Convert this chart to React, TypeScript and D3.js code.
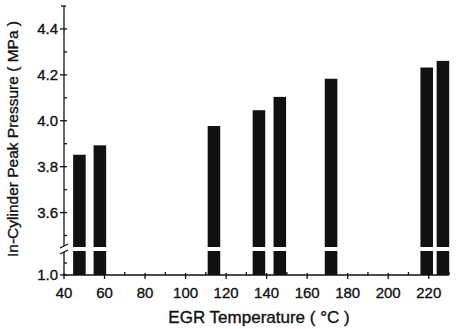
import React from "react";
import * as d3 from "d3";

// EGR temperature (°C) and peak pressure (MPa)
const temps = [47.6, 57.7, 114, 136.2, 146.5, 171.8, 219, 227];
const pressures = [3.852, 3.893, 3.977, 4.046, 4.104, 4.183, 4.232, 4.261];
const xTicks = [40, 60, 80, 100, 120, 140, 160, 180, 200, 220];
const xMinor = [50, 70, 90, 110, 130, 150, 170, 190, 210, 230];
const yTicks = [3.6, 3.8, 4.0, 4.2, 4.4];
const yMinor = [3.5, 3.7, 3.9, 4.1, 4.3];
const lowTicks = [1.0];
const lowMinor = [1.05];

const W = 459;
const H = 329;
const font = "'Liberation Sans', Arial, sans-serif";
const ink = "#111";

const App = () => {
  const x = d3.scaleLinear().domain([40, 230]).range([64, 449]);
  const yUp = d3.scaleLinear().domain([3.45, 4.5]).range([247, 6]);
  const yLow = d3.scaleLinear().domain([1.0, 1.1]).range([275, 251]);
  const barW = x(6.2) - x(0);
  const x0 = x(40);
  const yBase = yLow(1.0);

  return (
    <svg width={W} height={H} style={{ position: "absolute", left: 0, top: 0, background: "#fff" }}>
      {/* bars, drawn in both axis segments */}
      {temps.map((t, i) => (
        <g key={i} fill={ink}>
          <rect x={x(t) - barW / 2} y={yUp(pressures[i])} width={barW} height={yUp(3.45) - yUp(pressures[i])} />
          <rect x={x(t) - barW / 2} y={yLow(1.1)} width={barW} height={yBase - yLow(1.1)} />
        </g>
      ))}

      {/* y axis */}
      <g stroke={ink} strokeWidth={1.3}>
        <line x1={x0} x2={x0} y1={yUp(4.5)} y2={yUp(3.45) - 1} />
        <line x1={x0} x2={x0} y1={yLow(1.1) + 1} y2={yBase} />
        {yTicks.map(v => <line key={v} x1={x0 - 4} x2={x0 + 3} y1={yUp(v)} y2={yUp(v)} />)}
        {yMinor.map(v => <line key={v} x1={x0} x2={x0 + 3} y1={yUp(v)} y2={yUp(v)} />)}
        <line x1={x0 - 3} x2={x0 + 2} y1={yUp(4.5)} y2={yUp(4.5)} />
        {lowTicks.map(v => <line key={v} x1={x0 - 4} x2={x0 + 3} y1={yLow(v)} y2={yLow(v)} />)}
        {lowMinor.map(v => <line key={v} x1={x0} x2={x0 + 3} y1={yLow(v)} y2={yLow(v)} />)}
        {/* break marks */}
        <line x1={x0 - 4} x2={x0 + 4} y1={yUp(3.45) + 1} y2={yUp(3.45) - 3} />
        <line x1={x0 - 4} x2={x0 + 4} y1={yLow(1.1) + 3} y2={yLow(1.1) - 1} />
      </g>

      {/* x axis */}
      <g stroke={ink} strokeWidth={1.3}>
        <line x1={x0} x2={x(230)} y1={yBase} y2={yBase} />
        {xTicks.map(v => <line key={v} x1={x(v)} x2={x(v)} y1={yBase - 2} y2={yBase + 4} />)}
        {xMinor.map(v => <line key={v} x1={x(v)} x2={x(v)} y1={yBase - 3} y2={yBase} />)}
      </g>

      <g fontFamily={font} fontSize={15} fill={ink} stroke={ink} strokeWidth={0.35}>
        {yTicks.map(v => (
          <text key={v} x={x0 - 6} y={yUp(v)} dy="0.36em" textAnchor="end">{d3.format(".1f")(v)}</text>
        ))}
        {lowTicks.map(v => (
          <text key={v} x={x0 - 6} y={yLow(v)} dy="0.36em" textAnchor="end">{d3.format(".1f")(v)}</text>
        ))}
        {xTicks.map(v => (
          <text key={v} x={x(v)} y={yBase + 23} textAnchor="middle">{v}</text>
        ))}
        <text x={259} y={323} textAnchor="middle" fontSize={17}>EGR Temperature ( °C )</text>
        <text transform={`translate(18,139) rotate(-90)`} textAnchor="middle" fontSize={15.5}>
          In-Cylinder Peak Pressure ( MPa )
        </text>
      </g>
    </svg>
  );
};

export default App;
